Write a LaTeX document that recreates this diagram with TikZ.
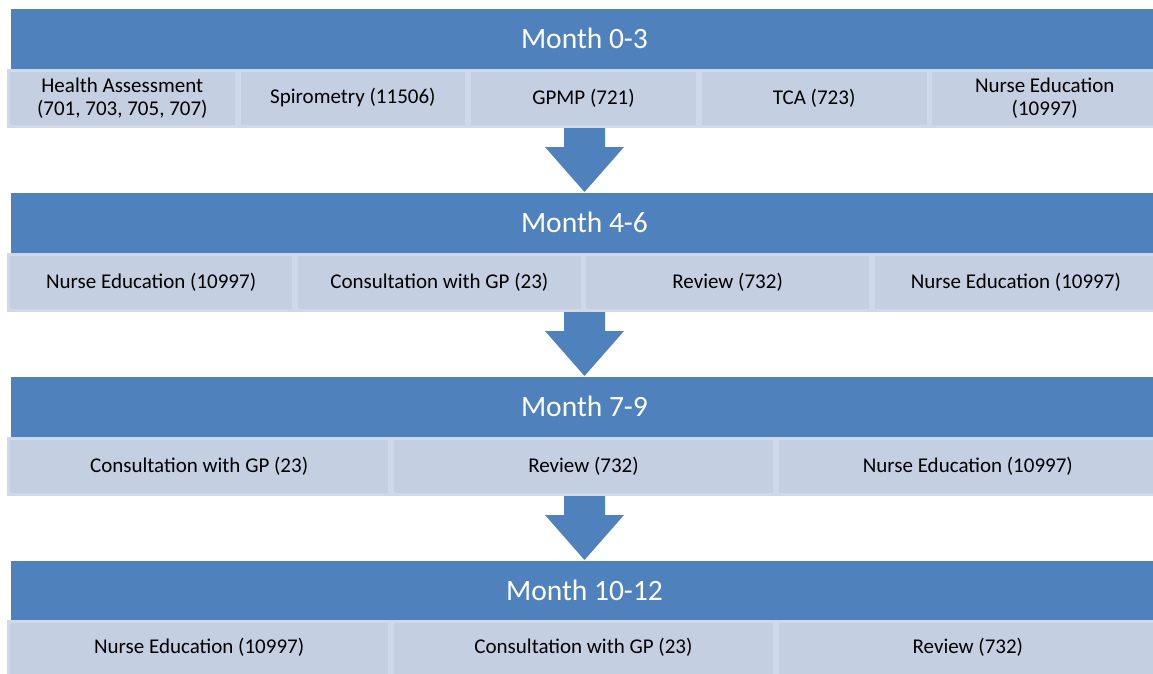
\documentclass[tikz,border=0pt]{standalone}
\usepackage{fontspec}
\setmainfont{Carlito}
\definecolor{hdrblue}{RGB}{79,129,189}
\definecolor{boxfill}{RGB}{196,207,226}
\definecolor{boxline}{RGB}{208,217,234}
\tikzset{
  hdrbar/.style={fill=hdrblue, draw=none},
  hdrtext/.style={inner sep=0pt, text=white, font=\fontsize{29.5}{35}\selectfont},
  itembox/.style={fill=boxfill, draw=boxline, line width=3pt},
  itemtext/.style={align=center, text=black, inner sep=0pt, font=\fontsize{21}{22.5}\selectfont},
  flow/.style={fill=hdrblue, draw=none},
}
\begin{document}
\begin{tikzpicture}[x=1pt,y=-1pt]
\useasboundingbox (0,0) rectangle (1153,673);
\clip (0,0) rectangle (1153,673);
\fill[white] (0,0) rectangle (1153,673);

% ---------- Row 1 ----------
\path[hdrbar] (11,9) rectangle (1160,69);
\node[hdrtext] (h1) at (584.5,38) {Month 0-3};
\foreach \i/\t in {0/{Health Assessment\\(701, 703, 705, 707)},1/{Spirometry (11506)},2/{GPMP (721)},3/{TCA (723)},4/{Nurse Education\\(10997)}}{
  \path[itembox] ({7+230.6*\i+1.4},70.5) rectangle ({7+230.6*(\i+1)-1.4},126.5);
  \node[itemtext] (r1b\i) at ({7+230.6*(\i+0.5)},98) {\t};
}

% ---------- Row 2 ----------
\path[hdrbar] (11,193) rectangle (1160,253);
\node[hdrtext] (h2) at (584.5,222) {Month 4-6};
\foreach \i/\t in {0/{Nurse Education (10997)},1/{Consultation with GP (23)},2/{Review (732)},3/{Nurse Education (10997)}}{
  \path[itembox] ({7+288.25*\i+1.4},254.5) rectangle ({7+288.25*(\i+1)-1.4},310.5);
  \node[itemtext] (r2b\i) at ({7+288.25*(\i+0.5)},282) {\t};
}

% ---------- Row 3 ----------
\path[hdrbar] (11,377) rectangle (1160,437);
\node[hdrtext] (h3) at (584.5,406) {Month 7-9};
\foreach \i/\t in {0/{Consultation with GP (23)},1/{Review (732)},2/{Nurse Education (10997)}}{
  \path[itembox] ({7+384.33*\i+1.4},438.5) rectangle ({7+384.33*(\i+1)-1.4},494.5);
  \node[itemtext] (r3b\i) at ({7+384.33*(\i+0.5)},466) {\t};
}

% ---------- Row 4 ----------
\path[hdrbar] (11,561) rectangle (1160,620);
\node[hdrtext] (h4) at (584.5,590) {Month 10-12};
\foreach \i/\t in {0/{Nurse Education (10997)},1/{Consultation with GP (23)},2/{Review (732)}}{
  \path[itembox] ({7+384.33*\i+1.4},621.5) rectangle ({7+384.33*(\i+1)-1.4},680);
  \node[itemtext] (r4b\i) at ({7+384.33*(\i+0.5)},647) {\t};
}

% ---------- Arrows ----------
\foreach \n/\top/\tip in {1/128/192, 2/312/376, 3/496/560}{
  \coordinate (as\n) at (584.5,\top);
  \coordinate (at\n) at (584.5,\tip);
  \fill[flow] (as\n) ++(-20.5,0) -- ++(0,19) -- ++(-19,0) -- (at\n) -- ++(39.5,-45) -- ++(-19,0) -- ++(0,-19) -- cycle;
}
\end{tikzpicture}
\end{document}
